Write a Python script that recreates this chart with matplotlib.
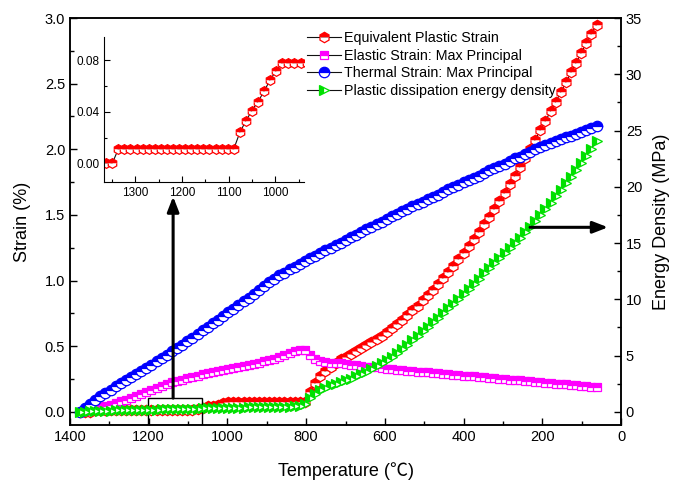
import numpy as np
import matplotlib
matplotlib.use('Agg')
import matplotlib.pyplot as plt
from matplotlib.ticker import MultipleLocator
from matplotlib.patches import Rectangle

plt.rcParams['font.family'] = ['Liberation Sans', 'Noto Sans CJK SC', 'DejaVu Sans']

# Temperature grid (cooling from 1375 down to 62 C, 13 C per step)
temperature = np.arange(1375, 61, -13)

# Equivalent plastic strain (%)
plastic_strain = [0.0, 0.0, 0.0, 0.011, 0.011, 0.011, 0.011, 0.011, 0.011, 0.011,
                  0.011, 0.011, 0.011, 0.011, 0.011, 0.011, 0.011, 0.011, 0.011, 0.011,
                  0.011, 0.011, 0.011, 0.024, 0.033, 0.041, 0.048, 0.056, 0.065, 0.072,
                  0.078, 0.078, 0.078, 0.078, 0.078, 0.078, 0.078, 0.078, 0.078, 0.078,
                  0.078, 0.078, 0.078, 0.078, 0.078, 0.15, 0.22, 0.27, 0.31, 0.34,
                  0.37, 0.40, 0.42, 0.44, 0.465, 0.49, 0.51, 0.535, 0.555, 0.58,
                  0.609, 0.639, 0.670, 0.703, 0.737, 0.773, 0.810, 0.849, 0.889, 0.931,
                  0.974, 1.019, 1.065, 1.113, 1.162, 1.212, 1.264, 1.317, 1.372, 1.428,
                  1.486, 1.545, 1.606, 1.668, 1.732, 1.797, 1.864, 1.932, 2.002, 2.073,
                  2.146, 2.215, 2.29, 2.36, 2.435, 2.51, 2.585, 2.66, 2.735, 2.81,
                  2.88, 2.95]

# Elastic strain, max principal (%)
elastic_strain = [0.00, 0.01, 0.02, 0.03, 0.04, 0.045, 0.055, 0.065, 0.08, 0.09,
                  0.105, 0.12, 0.135, 0.15, 0.165, 0.18, 0.195, 0.21, 0.225, 0.235,
                  0.245, 0.255, 0.265, 0.275, 0.285, 0.295, 0.305, 0.315, 0.32, 0.33,
                  0.335, 0.345, 0.35, 0.36, 0.365, 0.375, 0.385, 0.395, 0.405, 0.415,
                  0.43, 0.445, 0.46, 0.475, 0.47, 0.43, 0.40, 0.385, 0.38, 0.375,
                  0.375, 0.37, 0.365, 0.36, 0.355, 0.35, 0.345, 0.34, 0.34, 0.335,
                  0.33, 0.325, 0.32, 0.318, 0.315, 0.31, 0.307, 0.304, 0.30, 0.297,
                  0.293, 0.29, 0.287, 0.283, 0.28, 0.277, 0.273, 0.27, 0.266, 0.263,
                  0.26, 0.256, 0.253, 0.25, 0.246, 0.243, 0.24, 0.236, 0.233, 0.23,
                  0.226, 0.223, 0.22, 0.216, 0.213, 0.21, 0.206, 0.203, 0.20, 0.197,
                  0.193, 0.19]

# Thermal strain, max principal (%)
thermal_strain = [0.00, 0.03, 0.06, 0.09, 0.12, 0.145, 0.17, 0.195, 0.22, 0.245,
                  0.265, 0.29, 0.31, 0.335, 0.36, 0.385, 0.41, 0.435, 0.46, 0.485,
                  0.51, 0.54, 0.565, 0.59, 0.62, 0.645, 0.675, 0.70, 0.73, 0.76,
                  0.785, 0.815, 0.845, 0.87, 0.90, 0.93, 0.96, 0.99, 1.015, 1.04,
                  1.06, 1.085, 1.105, 1.13, 1.15, 1.17, 1.19, 1.21, 1.23, 1.25,
                  1.27, 1.29, 1.31, 1.33, 1.35, 1.37, 1.39, 1.41, 1.43, 1.45,
                  1.47, 1.49, 1.51, 1.53, 1.545, 1.565, 1.585, 1.60, 1.62, 1.64,
                  1.655, 1.675, 1.695, 1.71, 1.73, 1.75, 1.765, 1.785, 1.80, 1.82,
                  1.84, 1.855, 1.875, 1.89, 1.91, 1.93, 1.945, 1.965, 1.98, 2.00,
                  2.015, 2.03, 2.045, 2.06, 2.075, 2.09, 2.105, 2.12, 2.135, 2.15,
                  2.165, 2.18]

# Plastic dissipation energy density (MPa)
energy_density = [0.0, 0.02, 0.04, 0.06, 0.08, 0.10, 0.12, 0.13, 0.14, 0.15,
                  0.16, 0.17, 0.18, 0.19, 0.20, 0.21, 0.22, 0.23, 0.24, 0.25,
                  0.26, 0.27, 0.28, 0.29, 0.30, 0.31, 0.32, 0.33, 0.34, 0.35,
                  0.36, 0.37, 0.38, 0.39, 0.40, 0.41, 0.42, 0.43, 0.44, 0.45,
                  0.46, 0.47, 0.48, 0.50, 0.70, 1.2, 1.6, 1.9, 2.15, 2.35,
                  2.5, 2.65, 2.8, 2.95, 3.15, 3.35, 3.55, 3.8, 4.05, 4.3,
                  4.6, 4.9, 5.25, 5.6, 5.95, 6.35, 6.75, 7.15, 7.55, 7.95,
                  8.35, 8.8, 9.2, 9.6, 10.05, 10.5, 10.95, 11.4, 11.85, 12.3,
                  12.75, 13.2, 13.65, 14.1, 14.55, 15.0, 15.45, 15.95, 16.45, 16.95,
                  17.5, 18.05, 18.6, 19.15, 19.7, 20.3, 20.9, 21.5, 22.1, 22.75,
                  23.4, 24.1]

labels = ['Equivalent Plastic Strain', 'Elastic Strain: Max Principal',
          'Thermal Strain: Max Principal', 'Plastic dissipation energy density']

W, H = 676, 484
fig = plt.figure(figsize=(W / 100, H / 100), dpi=100)
ax = fig.add_axes([70 / W, 1 - 425 / H, 551 / W, 407 / H])
ax2 = ax.twinx()


def style(color, marker, fill='top', ms=6):
    return dict(color='#111111', lw=0.8, marker=marker, ms=ms, mec=color, mfc=color,
                mfcalt='white', fillstyle=fill, mew=0.9)


l1, = ax.plot(temperature, plastic_strain, label=labels[0], **style('#ff0000', 'h', ms=7.5))
l2, = ax.plot(temperature, elastic_strain, label=labels[1], **style('#ff00ff', 's', ms=5.8))
l3, = ax.plot(temperature, thermal_strain, label=labels[2], **style('#0000ff', 'o', ms=7.5))
l4, = ax2.plot(temperature, energy_density, label=labels[3], **style('#00e000', '>', fill='left', ms=7))

ax.set_xlim(1400, 0)
ax.set_ylim(-0.1, 3.0)
ax2.set_ylim(-35 / 30, 35)

ax.xaxis.set_major_locator(MultipleLocator(200))
ax.xaxis.set_minor_locator(MultipleLocator(100))
ax.yaxis.set_major_locator(MultipleLocator(0.5))
ax.yaxis.set_minor_locator(MultipleLocator(0.25))
ax2.yaxis.set_major_locator(MultipleLocator(5))
ax2.yaxis.set_minor_locator(MultipleLocator(2.5))
ax.yaxis.set_major_formatter(plt.FormatStrFormatter('%.1f'))

ax.tick_params(which='both', direction='in', top=False, right=False, width=1, labelsize=10.5)
ax.tick_params(which='major', length=5)
ax.tick_params(which='minor', length=3)
ax2.tick_params(which='both', direction='in', left=False, width=1, labelsize=10.5)
ax2.tick_params(which='major', length=5)
ax2.tick_params(which='minor', length=3)
for a in (ax, ax2):
    for s in a.spines.values():
        s.set_linewidth(1.1)

ax.set_xlabel('Temperature (℃)', fontsize=13, labelpad=13)
ax.set_ylabel('Strain (%)', fontsize=13, labelpad=10)
ax2.set_ylabel('Energy Density (MPa)', fontsize=13, labelpad=8)

# zoom box and arrows
ax.add_patch(Rectangle((1065, -0.1), 137, 0.205, fill=False, lw=1, ec='black', zorder=5))
ax.annotate('', xy=(1138, 1.64), xytext=(1138, 0.105),
            arrowprops=dict(arrowstyle='-|>,head_length=0.9,head_width=0.35', lw=2.2,
                            color='black', shrinkA=0, shrinkB=0), zorder=6)
ax2.annotate('', xy=(33, 16.4), xytext=(231, 16.4),
             arrowprops=dict(arrowstyle='-|>,head_length=0.9,head_width=0.35', lw=2.2,
                             color='black', shrinkA=0, shrinkB=0), zorder=6)

fig.legend([l1, l2, l3, l4], labels, loc='upper left', bbox_to_anchor=(307 / W, 1 - 31 / H),
           frameon=False, fontsize=10.3, borderpad=0, borderaxespad=0, handlelength=2.4,
           handletextpad=0.2, labelspacing=0.25, numpoints=1)

# inset with the early plastic strain
axin = fig.add_axes([104.3 / W, 1 - 181.7 / H, 200 / W, 145 / H])
axin.set_facecolor('none')
axin.plot(temperature, plastic_strain, **style('#ff0000', 'h', ms=7))
axin.set_xlim(1366, 938)
axin.set_ylim(-0.0143, 0.0984)
axin.spines['top'].set_visible(False)
axin.spines['right'].set_visible(False)
axin.xaxis.set_major_locator(MultipleLocator(100))
axin.xaxis.set_minor_locator(MultipleLocator(50))
axin.yaxis.set_major_locator(MultipleLocator(0.04))
axin.yaxis.set_minor_locator(MultipleLocator(0.02))
axin.yaxis.set_major_formatter(plt.FormatStrFormatter('%.2f'))
axin.tick_params(which='both', direction='in', labelsize=8.5, width=0.8)
axin.tick_params(which='major', length=4)
axin.tick_params(which='minor', length=2.5)

fig.savefig('out.png', dpi=100)
